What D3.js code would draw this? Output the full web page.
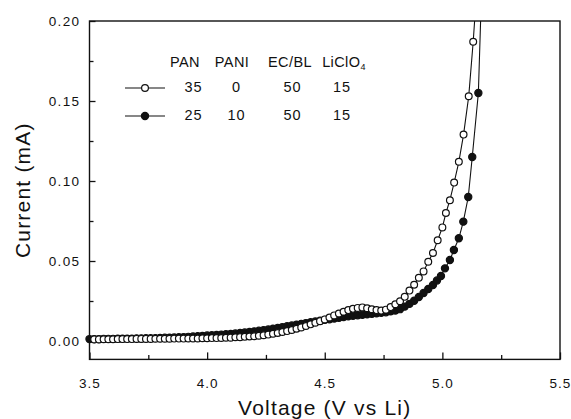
<!DOCTYPE html>
<html>
<head>
<meta charset="utf-8">
<script src="https://cdn.jsdelivr.net/npm/d3@7"></script>
<style>
  html, body { margin: 0; padding: 0; background: #fff; }
  svg { display: block; }
  text { font-family: "Liberation Sans", Arial, Helvetica, sans-serif; fill: #111; }
</style>
</head>
<body>
<div id="chart"></div>
<script>
// ---- Data ----
// PAN 35 / PANI 0 / EC/BL 50 / LiClO4 15  (open circles)
const openVoltage = [
  3.52, 3.54, 3.56, 3.58, 3.60, 3.62, 3.64, 3.66, 3.68, 3.70,
  3.72, 3.74, 3.76, 3.78, 3.80, 3.82, 3.84, 3.86, 3.88, 3.90,
  3.92, 3.94, 3.96, 3.98, 4.00, 4.02, 4.04, 4.06, 4.08, 4.10,
  4.12, 4.14, 4.16, 4.18, 4.20, 4.22, 4.24, 4.26, 4.28, 4.30,
  4.32, 4.34, 4.36, 4.38, 4.40, 4.42, 4.44, 4.46, 4.48, 4.50,
  4.52, 4.54, 4.56, 4.58, 4.60, 4.62, 4.64, 4.66, 4.68, 4.70,
  4.72, 4.74, 4.76, 4.78, 4.80, 4.82, 4.84, 4.86, 4.88, 4.90,
  4.92, 4.94, 4.96,
  4.98, 5.00, 5.015, 5.032, 5.05, 5.07, 5.09, 5.112, 5.131, 5.15
];
const openCurrent = [
  0.0010, 0.0010, 0.0011, 0.0011, 0.0011, 0.0012, 0.0012, 0.0012, 0.0012, 0.0013,
  0.0013, 0.0013, 0.0013, 0.0014, 0.0014, 0.0014, 0.0014, 0.0015, 0.0015, 0.0015,
  0.0016, 0.0016, 0.0016, 0.0017, 0.0017, 0.0018, 0.0018, 0.0019, 0.0020, 0.0021,
  0.0023, 0.0024, 0.0026, 0.0028, 0.0030, 0.0033, 0.0036, 0.0040, 0.0045, 0.0050,
  0.0056, 0.0062, 0.0069, 0.0077, 0.0085, 0.0094, 0.0104, 0.0114, 0.0124, 0.0135,
  0.0147, 0.0160, 0.0172, 0.0183, 0.0193, 0.0201, 0.0207, 0.0210, 0.0205, 0.0198,
  0.0193, 0.0190, 0.0196, 0.0212, 0.0230, 0.0248, 0.0276, 0.0315, 0.0352, 0.0395,
  0.0435, 0.0495, 0.0550,
  0.0630, 0.0710, 0.0800, 0.0880, 0.0990, 0.1120, 0.1290, 0.1530, 0.1870, 0.2280
];

// PAN 25 / PANI 10 / EC/BL 50 / LiClO4 15  (filled circles)
const filledVoltage = [
  3.50, 3.52, 3.54, 3.56, 3.58, 3.60, 3.62, 3.64, 3.66, 3.68,
  3.70, 3.72, 3.74, 3.76, 3.78, 3.80, 3.82, 3.84, 3.86, 3.88,
  3.90, 3.92, 3.94, 3.96, 3.98, 4.00, 4.02, 4.04, 4.06, 4.08,
  4.10, 4.12, 4.14, 4.16, 4.18, 4.20, 4.22, 4.24, 4.26, 4.28,
  4.30, 4.32, 4.34, 4.36, 4.38, 4.40, 4.42, 4.44, 4.46, 4.48,
  4.50, 4.52, 4.54, 4.56, 4.58, 4.60, 4.62, 4.64, 4.66, 4.68,
  4.70, 4.72, 4.74, 4.76, 4.78, 4.80, 4.82, 4.84, 4.86, 4.88,
  4.90, 4.92, 4.94, 4.96,
  4.977, 4.994, 5.011, 5.032, 5.049, 5.070, 5.089, 5.110, 5.127, 5.153, 5.172
];
const filledCurrent = [
  0.0012, 0.0012, 0.0012, 0.0013, 0.0013, 0.0013, 0.0014, 0.0014, 0.0015, 0.0015,
  0.0016, 0.0016, 0.0017, 0.0017, 0.0018, 0.0019, 0.0020, 0.0021, 0.0022, 0.0023,
  0.0024, 0.0026, 0.0028, 0.0030, 0.0032, 0.0034, 0.0036, 0.0038, 0.0040, 0.0042,
  0.0044, 0.0047, 0.0050, 0.0053, 0.0056, 0.0060, 0.0064, 0.0068, 0.0072, 0.0077,
  0.0082, 0.0087, 0.0092, 0.0097, 0.0102, 0.0107, 0.0112, 0.0117, 0.0122, 0.0127,
  0.0132, 0.0136, 0.0141, 0.0145, 0.0150, 0.0154, 0.0158, 0.0161, 0.0164, 0.0167,
  0.0170, 0.0173, 0.0176, 0.0180, 0.0185, 0.0191, 0.0199, 0.0215, 0.0232, 0.0252,
  0.0275, 0.0300, 0.0325, 0.0350,
  0.0378, 0.0406, 0.0454, 0.0506, 0.0569, 0.0642, 0.0746, 0.0900, 0.1150, 0.1550, 0.2450
];

// Axis ticks
const xMajorTicks = [3.5, 4.0, 4.5, 5.0, 5.5];
const xMinorTicks = [3.75, 4.25, 4.75, 5.25];
const yMajorTicks = [0.00, 0.05, 0.10, 0.15, 0.20];
const yMinorTicks = [0.025, 0.075, 0.125, 0.175];

// Legend table
const legendHeaders = ['PAN', 'PANI', 'EC/BL', 'LiClO'];
const legendRows = [
  { filled: false, values: ['35', '0', '50', '15'] },
  { filled: true,  values: ['25', '10', '50', '15'] }
];

// ---- Layout ----
const W = 571, H = 419;
const plot = { left: 89.5, right: 560, top: 21, bottom: 359.4 };
const markerR = { open: 3.4, filled: 3.6 };

const svg = d3.select('#chart').append('svg')
  .attr('width', W).attr('height', H);

const x = d3.scaleLinear().domain([3.5, 5.5]).range([plot.left, plot.right]);
const y = d3.scaleLinear().domain([-0.0115, 0.20]).range([plot.bottom, plot.top]);

// clip (curves run off the top of the frame)
svg.append('defs').append('clipPath').attr('id', 'clip')
  .append('rect')
  .attr('x', plot.left - 5).attr('y', plot.top)
  .attr('width', plot.right - plot.left + 10).attr('height', plot.bottom - plot.top);

// Axes (ticks point inward)
const xAxisG = svg.append('g').attr('transform', `translate(0,${plot.bottom})`)
  .call(d3.axisBottom(x).tickValues(xMajorTicks).tickSize(-7).tickPadding(19)
    .tickFormat(d3.format('.1f')));
svg.append('g').attr('transform', `translate(0,${plot.bottom})`)
  .call(d3.axisBottom(x).tickValues(xMinorTicks).tickSize(-4.5).tickFormat(''));

const yAxisG = svg.append('g').attr('transform', `translate(${plot.left},0)`)
  .call(d3.axisLeft(y).tickValues(yMajorTicks).tickSize(-6).tickPadding(9)
    .tickFormat(d3.format('.2f')));
svg.append('g').attr('transform', `translate(${plot.left},0)`)
  .call(d3.axisLeft(y).tickValues(yMinorTicks).tickSize(-4).tickFormat(''));

svg.selectAll('.domain').remove();
svg.selectAll('.tick line').attr('stroke', '#111').attr('stroke-width', 1.3);
yAxisG.selectAll('.tick text')
  .style('font-size', '13.5px').style('letter-spacing', '1.4px').attr('fill', '#111');
xAxisG.selectAll('.tick text')
  .style('font-size', '13.5px').style('letter-spacing', '1px').attr('fill', '#111');

// Frame
svg.append('rect')
  .attr('x', plot.left).attr('y', plot.top)
  .attr('width', plot.right - plot.left).attr('height', plot.bottom - plot.top)
  .attr('fill', 'none').attr('stroke', '#111').attr('stroke-width', 1.4);

// Axis titles
svg.append('text')
  .attr('x', (plot.left + plot.right) / 2).attr('y', 415)
  .attr('text-anchor', 'middle')
  .style('font-size', '21px').style('letter-spacing', '1.2px')
  .text('Voltage (V vs Li)');

svg.append('text')
  .attr('transform', `translate(30,${(plot.top + plot.bottom) / 2}) rotate(-90)`)
  .attr('text-anchor', 'middle')
  .style('font-size', '21px').style('letter-spacing', '1.2px')
  .text('Current (mA)');

// ---- Series ----
function toPoints(vs, is) {
  return vs.map((v, i) => ({ v, i: is[i] }));
}
const openPts = toPoints(openVoltage, openCurrent);
const filledPts = toPoints(filledVoltage, filledCurrent);

const line = d3.line().x(d => x(d.v)).y(d => y(d.i));
const gData = svg.append('g').attr('clip-path', 'url(#clip)');

function drawSeries(pts, filled) {
  gData.append('path').datum(pts)
    .attr('d', line)
    .attr('fill', 'none').attr('stroke', '#111').attr('stroke-width', 1.1);
  gData.append('g').selectAll('circle').data(pts).join('circle')
    .attr('cx', d => x(d.v)).attr('cy', d => y(d.i))
    .attr('r', filled ? markerR.filled : markerR.open)
    .attr('fill', filled ? '#111' : '#fff')
    .attr('stroke', '#111').attr('stroke-width', 1.2);
}
drawSeries(filledPts, true);
drawSeries(openPts, false);

// ---- Legend ----
const legFont = '14.5px';
const headerX = [185, 232, 290, 344];
const valueX = [193.5, 236.5, 292.5, 342];
const rowY = [92, 120];

const gLeg = svg.append('g');
gLeg.selectAll('text.hdr').data(legendHeaders).join('text')
  .attr('class', 'hdr')
  .attr('x', (d, i) => headerX[i]).attr('y', 67)
  .attr('text-anchor', 'middle')
  .style('font-size', legFont).style('letter-spacing', '0.4px')
  .each(function (d, i) {
    const t = d3.select(this);
    t.append('tspan').text(d);
    if (i === 3) {
      t.append('tspan').attr('dy', 3).style('font-size', '9px').text('4');
    }
  });

legendRows.forEach((row, r) => {
  const cy = rowY[r] - 4;
  gLeg.append('line')
    .attr('x1', 125).attr('x2', 165).attr('y1', cy).attr('y2', cy)
    .attr('stroke', '#111').attr('stroke-width', 1.1);
  gLeg.append('circle')
    .attr('cx', 145).attr('cy', cy).attr('r', row.filled ? markerR.filled : markerR.open)
    .attr('fill', row.filled ? '#111' : '#fff')
    .attr('stroke', '#111').attr('stroke-width', 1.2);
  gLeg.selectAll(null).data(row.values).join('text')
    .attr('x', (d, i) => valueX[i]).attr('y', rowY[r])
    .attr('text-anchor', 'middle')
    .style('font-size', legFont).style('letter-spacing', '1px')
    .text(d => d);
});
</script>
</body>
</html>
